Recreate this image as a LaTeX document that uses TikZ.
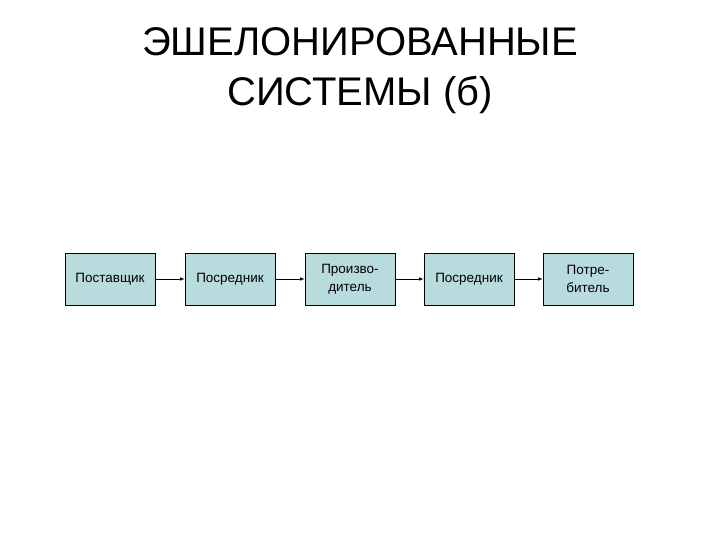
\documentclass[tikz,border=0pt]{standalone}
\usepackage{fontspec}
\setmainfont{Liberation Sans}
\definecolor{boxfill}{RGB}{184,220,222}
\begin{document}
\begin{tikzpicture}[x=1pt,y=-1pt,
  blk/.style={draw=black,line width=0.6pt,fill=boxfill,minimum width=90pt,minimum height=52pt,inner sep=1pt,align=center,font=\fontsize{13.5}{18}\selectfont},
  conn/.style={-latex,line width=0.6pt}]
\useasboundingbox (0,0) rectangle (720,540);
\node (t) at (360,71) [align=center,font=\fontsize{40}{50}\selectfont] {ЭШЕЛОНИРОВАННЫЕ\\СИСТЕМЫ (б)};
\node[blk] (a) at (110,279) {Поставщик};
\node[blk] (b) at (230,279) {Посредник};
\node[blk] (c) at (350,279) {Произво-\\дитель};
\node[blk] (d) at (469,279) {Посредник};
\node[blk] (e) at (588,279) {Потре-\\битель};
\draw[conn] (a) -- (b);
\draw[conn] (b) -- (c);
\draw[conn] (c) -- (d);
\draw[conn] (d) -- (e);
\end{tikzpicture}
\end{document}
